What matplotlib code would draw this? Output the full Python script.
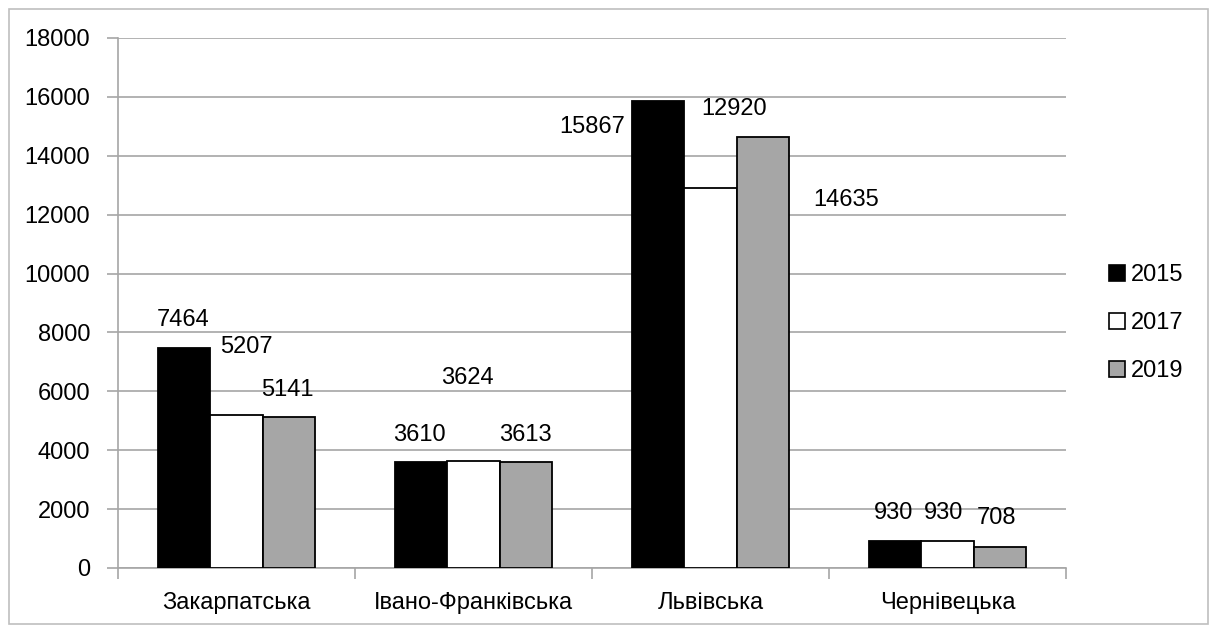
import matplotlib
matplotlib.use("Agg")
import matplotlib.pyplot as plt
from matplotlib.patches import Patch, Rectangle
import numpy as np

plt.rcParams['font.family'] = ['Liberation Sans', 'DejaVu Sans']

categories = ["Закарпатська", "Івано-Франківська", "Львівська", "Чернівецька"]
years = ["2015", "2017", "2019"]
values_2015 = [7464, 3610, 15867, 930]
values_2017 = [5207, 3624, 12920, 930]
values_2019 = [5141, 3613, 14635, 708]
yticks = [0, 2000, 4000, 6000, 8000, 10000, 12000, 14000, 16000, 18000]

# label placement (layout only): x offset from category centre, y in data units
label_dx = [[-0.226, 0.043, 0.216],
            [-0.228, -0.026, 0.218],
            [-0.5, 0.098, 0.574],
            [-0.228, -0.018, 0.205]]
label_y = [[8420, 7500, 6050],
           [4520, 6450, 4520],
           [14980, 15590, 12500],
           [1870, 1870, 1700]]

colors = ["#000000", "#ffffff", "#a6a6a6"]
series = [values_2015, values_2017, values_2019]
FS = 17

fig = plt.figure(figsize=(12.1, 6.3), dpi=100)
ax = fig.add_axes([118/1210, 62/630, (1066-118)/1210, (568-38)/630])

x = np.arange(len(categories))
w = 0.222
for i, (vals, c) in enumerate(zip(series, colors)):
    ax.bar(x + (i - 1) * w, vals, width=w, color=c, edgecolor="black",
           linewidth=1.3, label=years[i], zorder=3)

for ci in range(len(categories)):
    for si in range(3):
        ax.text(ci + label_dx[ci][si], label_y[ci][si], str(series[si][ci]),
                ha="center", va="center", fontsize=FS, color="black", zorder=4)

ax.set_xlim(-0.5, len(categories) - 0.5)
ax.set_ylim(0, 18000)
ax.set_yticks(yticks)
ax.set_yticklabels([str(t) for t in yticks])
ax.yaxis.grid(True, color="#a6a6a6", linewidth=1.2, zorder=0)
ax.set_axisbelow(True)

ax.set_xticks(x)
ax.set_xticklabels(categories)
ax.set_xticks(np.arange(len(categories) + 1) - 0.5, minor=True)
ax.tick_params(axis="x", which="major", length=0, pad=17, labelsize=FS)
ax.tick_params(axis="x", which="minor", length=8, width=1.2, color="#a6a6a6", direction="out")
ax.tick_params(axis="y", length=8, width=1.2, color="#a6a6a6", pad=12, labelsize=FS)

for s in ["top", "right"]:
    ax.spines[s].set_visible(False)
ax.spines["left"].set_color("#a6a6a6")
ax.spines["bottom"].set_color("#a6a6a6")
ax.spines["left"].set_linewidth(1.2)
ax.spines["bottom"].set_linewidth(1.2)

handles = [Patch(facecolor=c, edgecolor="black", linewidth=1.2) for c in colors]
fig.legend(handles, years, loc="center left", bbox_to_anchor=(1097/1210, 1 - 323/630),
           frameon=False, fontsize=FS, handlelength=0.68, handleheight=0.68,
           handletextpad=0.25, labelspacing=1.1, borderpad=0)

fig.patches.append(Rectangle((9/1210, 6/630), 1199/1210, 615/630, transform=fig.transFigure,
                             fill=False, edgecolor="#bfbfbf", linewidth=1.2))

fig.savefig("out.png", dpi=100)
